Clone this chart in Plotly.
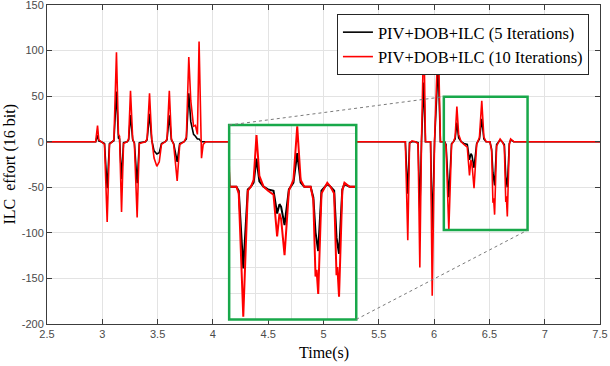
import plotly.graph_objects as go

# ---------------- data ----------------
time_s = [2.50, 2.94, 2.957, 2.968, 2.99, 3.02, 3.044, 3.065, 3.09, 3.105, 3.128, 3.146, 3.156,
          3.174, 3.192, 3.225, 3.238, 3.255, 3.275, 3.29, 3.315, 3.335, 3.39, 3.405, 3.427,
          3.447, 3.468, 3.493, 3.515, 3.535, 3.57, 3.585, 3.606, 3.625, 3.645, 3.677, 3.70,
          3.74, 3.76, 3.782, 3.80, 3.825, 3.842, 3.86, 3.875, 3.888, 3.897, 3.912, 3.935,
          5.74, 5.762, 5.778, 5.80, 5.83, 5.855, 5.871, 5.886, 5.907, 5.922, 5.968, 5.983,
          6.004, 6.037, 6.057, 6.095, 6.108, 6.133, 6.158, 6.175, 6.19, 6.206, 6.222, 6.245,
          6.27, 6.30, 6.32, 6.333, 6.342, 6.361, 6.385, 6.41, 6.431, 6.45, 6.47, 6.505,
          6.52, 6.532, 6.538, 6.547, 6.565, 6.585, 6.597, 6.615, 6.635, 6.648, 6.653, 6.662,
          6.68, 6.692, 6.72, 7.50]

ilc_10_iter = [0, 0, 17.6, 2, 0, -3, -88, -3, 0, 2, 98, 8, 6,
               -77, -2, 0, 3, 56, 3, -2, -83, -2, 0, 3, 53,
               3, -18, -27, -22, -3, 0, 3, 56, 3, -3, -43, -3,
               0, 5, 93, 45, 17, 18, 8, 110, 10, -18, -3, 0,
               0, -108, -2, 1, 0, -2, -138, 0, 125, 0, 0, -169,
               0, 118, 0, 0, -5, -97, -3, 0, 5, 38.5, 8, 0,
               -3, -6, -37, -20, -24, -51, -3, 5, 45, 5, 0, 0,
               -10, -67, -62, -80, -5, 0, 3, 0, -5, -66, -60, -82,
               -3, 3, 0, 0]

ilc_5_iter = [0, 0, 7, 1, 0, -2, -51, -2, 0, 1, 55, 4, 3,
              -41, -1, 0, 2, 29.3, 2, -1, -45.6, -1, 0, 2, 30.5,
              2, -10, -13.5, -12, -2, 0, 2, 29, 2, -2, -22, -2,
              0, 3, 53, 22, 8, 6, 3, 3, 1, 0, 0, 0,
              0, -57, -1, 0, 0, -1, -78.5, 0, 65, 0, 0, -97,
              0, 85, 0, 0, -3, -61, -2, 0, 3, 21, 4, 0,
              -2, -3, -20, -13, -15, -28.6, -2, 3, 25, 3, 0, 0,
              -8, -34, -40, -48, -3, 0, 2, 0, -3, -38, -42, -50,
              -2, 2, 0, 0]

x_tick_vals = [2.5, 3, 3.5, 4, 4.5, 5, 5.5, 6, 6.5, 7, 7.5]
x_tick_text = ["2.5", "3", "3.5", "4", "4.5", "5", "5.5", "6", "6.5", "7", "7.5"]
y_tick_vals = [-200, -150, -100, -50, 0, 50, 100, 150]
y_tick_text = ["-200", "-150", "-100", "-50", "0", "50", "100", "150"]

series_names = ["PIV+DOB+ILC (5 Iterations)", "PIV+DOB+ILC (10 Iterations)"]
x_title = "Time(s)"
y_title = "ILC  effort (16 bit)"

# ---------------- layout constants ----------------
X_RANGE = [2.5, 7.5]
Y_RANGE = [-200, 150]
# inset box (in main-axis coordinates) and zoomed source region
INSET_X = [4.147, 5.296]
INSET_Y = [-195, 18.3]
SRC_X = [6.088, 6.845]
SRC_Y = [-97, 49.4]
INSET_XRANGE = [6.055, 6.757]
INSET_YRANGE = [-99, 46]

GREEN = "#18a84a"
AX_COL = "#3c3c3c"
GRID_COL = "#e3e3e3"
SERIF = "Liberation Serif"
SANS = "Liberation Sans"


def frac(v, rng):
    return (v - rng[0]) / (rng[1] - rng[0])


fig = go.Figure()

# main traces
fig.add_trace(go.Scatter(x=time_s, y=ilc_5_iter, mode="lines", name=series_names[0],
                         line=dict(color="black", width=1.6), xaxis="x", yaxis="y"))
fig.add_trace(go.Scatter(x=time_s, y=ilc_10_iter, mode="lines", name=series_names[1],
                         line=dict(color="red", width=1.6), xaxis="x", yaxis="y"))
# inset traces
fig.add_trace(go.Scatter(x=time_s, y=ilc_5_iter, mode="lines", showlegend=False,
                         line=dict(color="black", width=2), xaxis="x2", yaxis="y2"))
fig.add_trace(go.Scatter(x=time_s, y=ilc_10_iter, mode="lines", showlegend=False,
                         line=dict(color="red", width=2), xaxis="x2", yaxis="y2"))

axis_common = dict(showline=True, linecolor=AX_COL, linewidth=1, mirror="ticks",
                   ticks="inside", ticklen=5, tickcolor=AX_COL, showgrid=True,
                   gridcolor=GRID_COL, gridwidth=1, zeroline=False, automargin=False,
                   ticklabeloverflow="allow",
                   tickfont=dict(family=SANS, size=11, color="#4a4a4a"))

fig.update_layout(
    width=610, height=366,
    margin=dict(l=47, r=10, t=5, b=42, autoexpand=False),
    paper_bgcolor="white", plot_bgcolor="white",
    xaxis=dict(range=X_RANGE, tickmode="array", tickvals=x_tick_vals, ticktext=x_tick_text,
               domain=[0, 1], **axis_common),
    yaxis=dict(range=Y_RANGE, tickmode="array", tickvals=y_tick_vals, ticktext=y_tick_text,
               domain=[0, 1], **axis_common),
    xaxis2=dict(domain=[frac(INSET_X[0], X_RANGE), frac(INSET_X[1], X_RANGE)],
                range=INSET_XRANGE, anchor="y2", showticklabels=False, ticks="",
                dtick=0.2, tick0=6.2, showgrid=True, gridcolor=GRID_COL, zeroline=False,
                showline=False, automargin=False),
    yaxis2=dict(domain=[frac(INSET_Y[0], Y_RANGE), frac(INSET_Y[1], Y_RANGE)],
                range=INSET_YRANGE, anchor="x2", showticklabels=False, ticks="",
                dtick=20, tick0=0, showgrid=True, gridcolor=GRID_COL, zeroline=False,
                showline=False, automargin=False),
    legend=dict(x=0.98, y=0.972, xanchor="right", yanchor="top",
                bgcolor="white", bordercolor="#262626", borderwidth=1,
                font=dict(family=SERIF, size=16.5, color="black"),
                tracegroupgap=0, itemwidth=30),
    showlegend=True,
)

# axis titles as annotations (precise placement)
fig.add_annotation(text=x_title, xref="paper", yref="paper", x=0.5, y=-0.091,
                   xanchor="center", yanchor="middle", showarrow=False,
                   font=dict(family=SERIF, size=16, color="black"))
fig.add_annotation(text=y_title, xref="paper", yref="paper", x=-0.0687, y=0.5,
                   xanchor="center", yanchor="middle", showarrow=False, textangle=-90,
                   font=dict(family=SERIF, size=16, color="black"))

# inset border, source box, connector lines
fig.add_shape(type="rect", xref="x", yref="y", x0=INSET_X[0], x1=INSET_X[1],
              y0=INSET_Y[0], y1=INSET_Y[1], line=dict(color=GREEN, width=2.5), layer="above")
fig.add_shape(type="rect", xref="x", yref="y", x0=SRC_X[0], x1=SRC_X[1],
              y0=SRC_Y[0], y1=SRC_Y[1], line=dict(color=GREEN, width=2.5), layer="above")
fig.add_shape(type="line", xref="x", yref="y", x0=INSET_X[0], y0=INSET_Y[1],
              x1=SRC_X[0], y1=SRC_Y[1], line=dict(color="#7a7a7a", width=1, dash="dot"),
              layer="above")
fig.add_shape(type="line", xref="x", yref="y", x0=INSET_X[1], y0=INSET_Y[0],
              x1=SRC_X[1], y1=SRC_Y[0], line=dict(color="#7a7a7a", width=1, dash="dot"),
              layer="above")

fig.write_html("out.html",
               config={"displayModeBar": False},
               post_script="document.body.style.margin='0px';"
                           "document.body.style.overflow='hidden';")
